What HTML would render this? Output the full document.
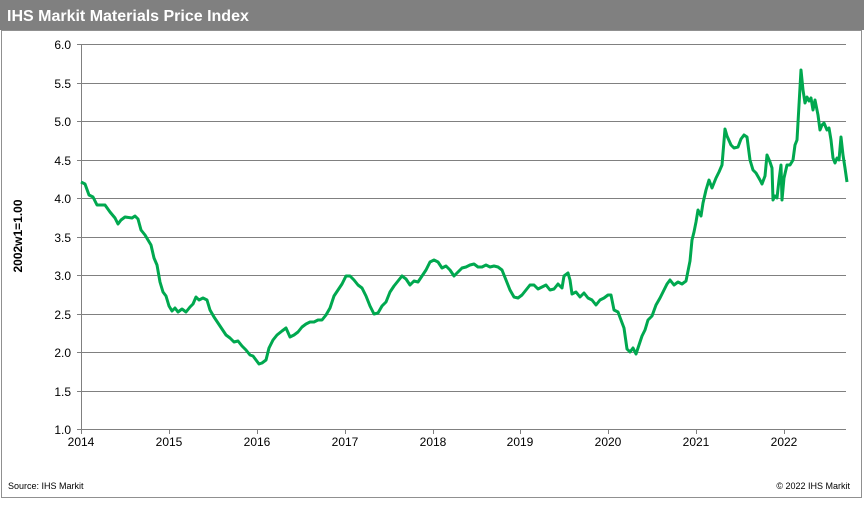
<!DOCTYPE html>
<html><head><meta charset="utf-8"><style>
body{margin:0;width:864px;height:500px;background:#fff;overflow:hidden;font-family:"Liberation Sans",Arial,sans-serif}
</style></head><body>
<svg width="864" height="500" xmlns="http://www.w3.org/2000/svg" font-family="Liberation Sans, Arial, sans-serif">
<rect x="0" y="0" width="864" height="30" fill="#808080"/>
<text x="7" y="21" fill="#fff" font-size="16" font-weight="bold">IHS Markit Materials Price Index</text>
<rect x="1.5" y="30.5" width="860" height="467" fill="none" stroke="#909090"/>
<g stroke="#808080" stroke-width="1">
<line x1="77" y1="44.5" x2="846" y2="44.5"/>
<line x1="77" y1="83.5" x2="846" y2="83.5"/>
<line x1="77" y1="121.5" x2="846" y2="121.5"/>
<line x1="77" y1="160.5" x2="846" y2="160.5"/>
<line x1="77" y1="198.5" x2="846" y2="198.5"/>
<line x1="77" y1="237.5" x2="846" y2="237.5"/>
<line x1="77" y1="275.5" x2="846" y2="275.5"/>
<line x1="77" y1="314.5" x2="846" y2="314.5"/>
<line x1="77" y1="352.5" x2="846" y2="352.5"/>
<line x1="77" y1="391.5" x2="846" y2="391.5"/>
<line x1="77" y1="429.5" x2="846" y2="429.5"/>
<line x1="81.5" y1="44" x2="81.5" y2="429"/>
<line x1="169.5" y1="429" x2="169.5" y2="434"/><line x1="257.5" y1="429" x2="257.5" y2="434"/>
<line x1="345.5" y1="429" x2="345.5" y2="434"/><line x1="433.5" y1="429" x2="433.5" y2="434"/>
<line x1="520.5" y1="429" x2="520.5" y2="434"/><line x1="608.5" y1="429" x2="608.5" y2="434"/>
<line x1="696.5" y1="429" x2="696.5" y2="434"/><line x1="784.5" y1="429" x2="784.5" y2="434"/>
<line x1="81.5" y1="429" x2="81.5" y2="434"/>
</g>
<g font-size="12" fill="#000" text-anchor="end">
<text x="71" y="49">6.0</text><text x="71" y="88">5.5</text><text x="71" y="126">5.0</text>
<text x="71" y="165">4.5</text><text x="71" y="203">4.0</text><text x="71" y="242">3.5</text>
<text x="71" y="280">3.0</text><text x="71" y="319">2.5</text><text x="71" y="357">2.0</text>
<text x="71" y="396">1.5</text><text x="71" y="434">1.0</text>
</g>
<g font-size="12" fill="#000" text-anchor="middle">
<text x="81" y="446">2014</text><text x="169" y="446">2015</text><text x="257" y="446">2016</text>
<text x="345" y="446">2017</text><text x="433" y="446">2018</text><text x="520" y="446">2019</text>
<text x="608" y="446">2020</text><text x="696" y="446">2021</text><text x="784" y="446">2022</text>
</g>
<text transform="translate(22,236) rotate(-90)" font-size="12" font-weight="bold" text-anchor="middle">2002w1=1.00</text>
<text x="8" y="489" font-size="9">Source:  IHS Markit</text>
<text x="850" y="489" font-size="9" text-anchor="end">© 2022  IHS Markit</text>
<polyline fill="none" stroke="#00a84f" stroke-width="3" stroke-linejoin="round" points="81,182 85,184 89,195 93,197 97,205 105,205 110,212 115,218 118,224 121,220 125,217 132,218 135,216 138,219 141,230 145,235 148,240 151,245 154,258 157,265 160,282 163,292 166,296 169,306 172,311 175,308 178,312 182,309 186,312 190,307 193,304 196,297 199,300 203,298 207,300 210,310 214,317 218,323 222,329 226,335 230,338 234,342 238,341 242,346 246,350 250,355 253,356 256,360 259,364 262,363 266,360 269,348 273,340 277,335 282,331 286,328 290,337 294,335 298,332 302,327 306,324 310,322 314,322 318,320 322,320 326,315 330,308 334,296 338,290 342,284 346,276 350,276 354,280 358,285 362,288 366,296 370,306 374,314 378,313 382,306 386,302 390,292 394,286 398,281 402,276 406,279 410,285 414,281 418,282 422,276 426,270 430,262 434,260 438,262 442,268 446,266 450,270 454,276 458,272 462,268 466,267 470,265 474,264 478,267 482,267 486,265 490,267 494,266 498,267 502,270 506,280 510,290 514,297 518,298 522,295 526,290 530,285 534,285 538,289 542,287 546,285 550,290 554,289 558,284 562,288 564,276 568,273 570,280 572,294 576,292 580,297 584,293 588,298 592,300 596,305 600,300 604,298 608,295 611,295 614,310 618,312 621,320 624,328 627,349 630,352 633,348 636,354 639,345 642,336 645,330 648,320 652,316 656,305 660,298 664,290 667,284 670,280 674,285 678,282 682,284 686,281 688,271 690,261 692,240 694,232 696,222 698,210 701,216 703,203 706,190 709,180 712,188 716,178 719,172 722,165 725,129 727,136 731,145 734,148 738,147 741,139 744,135 747,137 750,160 753,170 756,173 760,180 762,184 765,176 767,155 770,162 772,168 773,200 775,196 777,198 779,180 781,165 782,200 784,178 787,165 790,165 793,160 795,145 797,140 799,105 801,70 803,90 805,103 807,97 809,101 811,98 813,110 815,100 818,115 820,130 822,125 824,123 827,130 829,128 831,140 833,158 835,163 837,158 839,160 841,137 843,155 845,168 847,182"/>
</svg>
</body></html>
